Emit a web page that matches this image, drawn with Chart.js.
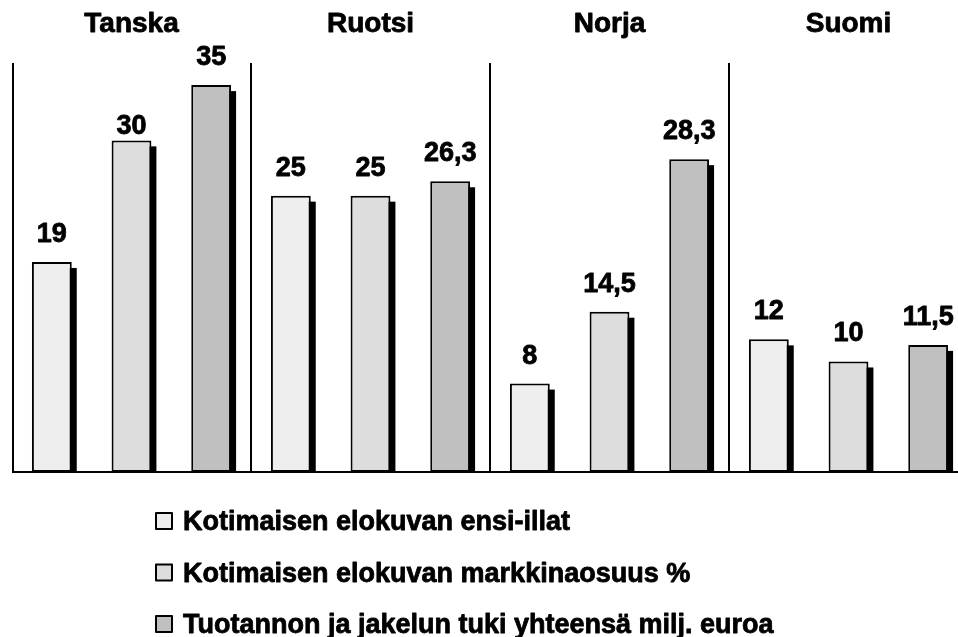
<!DOCTYPE html>
<html>
<head>
<meta charset="utf-8">
<script src="https://cdn.jsdelivr.net/npm/chart.js@4"></script>
<style>
  html, body { margin: 0; padding: 0; background: #fff; overflow: hidden; }
  #wrap { width: 970px; height: 637px; }
</style>
</head>
<body>
<div id="wrap"><canvas id="c" width="970" height="637"></canvas></div>
<script>
const categories = ["Tanska", "Ruotsi", "Norja", "Suomi"];
const seriesNames = [
  "Kotimaisen elokuvan ensi-illat",
  "Kotimaisen elokuvan markkinaosuus %",
  "Tuotannon ja jakelun tuki yhteensä milj. euroa"
];
const ensiIllat = [19, 25, 8, 12];
const markkinaosuus = [30, 25, 14.5, 10];
const tuki = [35, 26.3, 28.3, 11.5];
const seriesColors = ["#eeeeee", "#dddddd", "#c0c0c0"];
const yMax = 37;

const FONT = '"Liberation Sans", Arial, sans-serif';
// label placement tweak (dataset-index:point-index -> pixels closer to bar)
const labelNudge = { "1:0": 14 };

function fmt(v) { return String(v).replace('.', ','); }

function heavyText(ctx, txt, x, y) {
  ctx.strokeText(txt, x, y);
  ctx.fillText(txt, x, y);
}

const shadowPlugin = {
  id: 'shadow',
  beforeDatasetsDraw(chart) {
    const ctx = chart.ctx;
    ctx.save();
    ctx.fillStyle = '#000';
    chart.data.datasets.forEach((ds, i) => {
      chart.getDatasetMeta(i).data.forEach(bar => {
        const p = bar.getProps(['x', 'y', 'base', 'width'], true);
        ctx.fillRect(p.x - p.width / 2 + 5, p.y + 6, p.width, p.base - p.y - 6);
      });
    });
    ctx.restore();
  }
};

const decorPlugin = {
  id: 'decor',
  afterDatasetsDraw(chart) {
    const ctx = chart.ctx;
    const a = chart.chartArea;
    const xs = chart.scales.x;
    ctx.save();
    ctx.strokeStyle = '#000';
    ctx.lineWidth = 2;
    ctx.beginPath();
    ctx.moveTo(a.left + 1, a.top);
    ctx.lineTo(a.left + 1, a.bottom);
    for (let i = 1; i < categories.length; i++) {
      const x = Math.round((xs.getPixelForValue(i - 1) + xs.getPixelForValue(i)) / 2);
      ctx.moveTo(x, a.top);
      ctx.lineTo(x, a.bottom);
    }
    ctx.moveTo(a.left, a.bottom);
    ctx.lineTo(a.right, a.bottom);
    ctx.stroke();

    ctx.fillStyle = '#000';
    ctx.strokeStyle = '#000';
    ctx.lineWidth = 0.8;
    ctx.lineJoin = 'round';
    ctx.font = 'bold 28px ' + FONT;
    ctx.textAlign = 'center';
    ctx.textBaseline = 'alphabetic';
    categories.forEach((c, i) => {
      heavyText(ctx, c, xs.getPixelForValue(i), 32);
    });

    ctx.font = 'bold 27px ' + FONT;
    chart.data.datasets.forEach((ds, i) => {
      chart.getDatasetMeta(i).data.forEach((bar, j) => {
        const p = bar.getProps(['x', 'y'], true);
        const nudge = labelNudge[i + ':' + j] || 0;
        heavyText(ctx, fmt(ds.data[j]), p.x, p.y - 20 + nudge);
      });
    });

    ctx.textAlign = 'left';
    ctx.font = 'bold 27px ' + FONT;
    seriesNames.forEach((name, i) => {
      const base = 530 + i * 51.5;
      ctx.fillStyle = seriesColors[i];
      ctx.fillRect(156, base - 17, 16, 16);
      ctx.lineWidth = 2;
      ctx.strokeStyle = '#000';
      ctx.strokeRect(156, base - 17, 16, 16);
      ctx.fillStyle = '#000';
      ctx.lineWidth = 0.8;
      heavyText(ctx, name, 183, base);
    });
    ctx.restore();
  }
};

new Chart(document.getElementById('c'), {
  type: 'bar',
  data: {
    labels: categories,
    datasets: [ensiIllat, markkinaosuus, tuki].map((d, i) => ({
      label: seriesNames[i],
      data: d,
      backgroundColor: seriesColors[i],
      borderColor: '#000',
      borderWidth: 2,
      borderSkipped: false,
      categoryPercentage: 1,
      barPercentage: 0.5
    }))
  },
  options: {
    responsive: false,
    animation: false,
    layout: { padding: { left: 12, right: 2, top: 63, bottom: 165 } },
    plugins: { legend: { display: false }, tooltip: { enabled: false } },
    scales: {
      x: { display: false },
      y: { display: false, min: 0, max: yMax }
    }
  },
  plugins: [shadowPlugin, decorPlugin]
});
</script>
</body>
</html>
